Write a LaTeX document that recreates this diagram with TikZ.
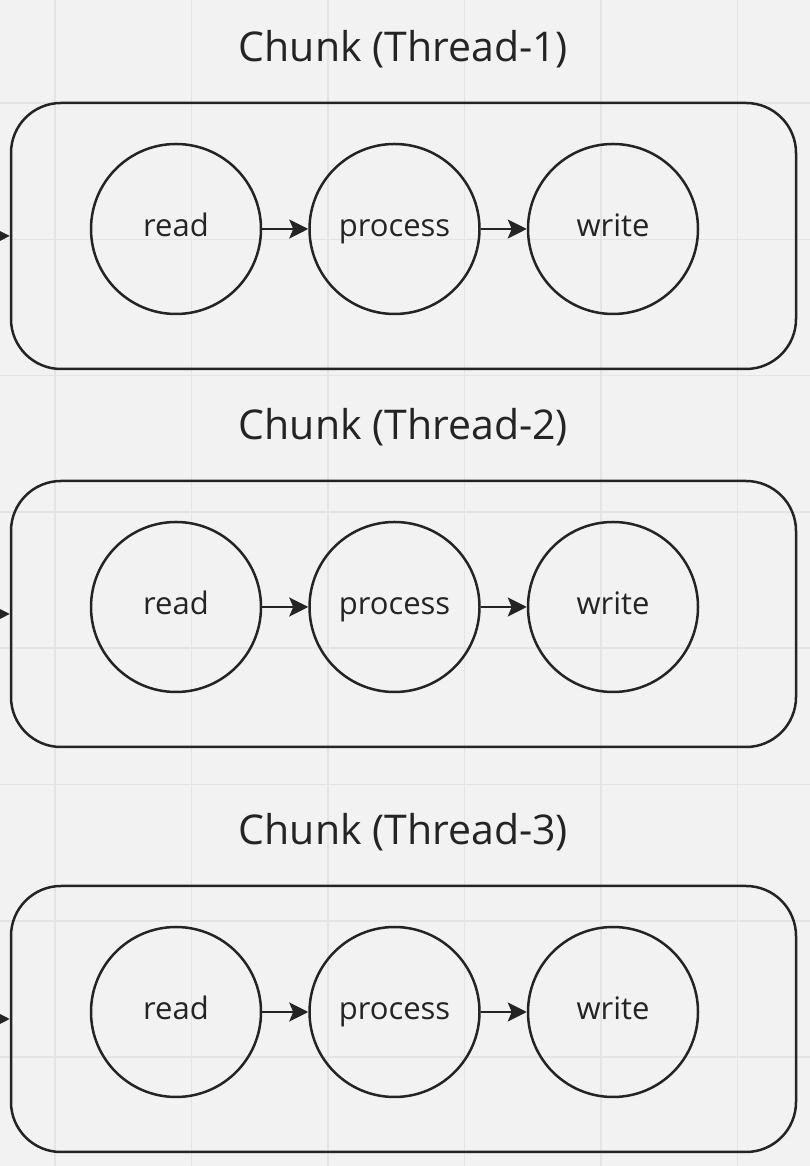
\documentclass[tikz,border=0pt]{standalone}
\usepackage{fontspec}
\setmainfont{Open Sans}
\usetikzlibrary{arrows.meta,positioning}
\definecolor{ink}{HTML}{242424}
\definecolor{paper}{HTML}{F2F2F2}
\definecolor{gridgray}{HTML}{E4E4E4}

\begin{document}
\begin{tikzpicture}[x=1pt, y=1pt, ->, >={Stealth[length=19pt,width=19pt,inset=4pt]}, line width=2.5pt, draw=ink, node distance=218.5pt]

		% Board with its faint grid
		\useasboundingbox (0,0) rectangle (810,1166);
		\clip (0,0) rectangle (810,1166);
		\fill[paper] (0,0) rectangle (810,1166);
		\foreach \gx in {0,...,5} \draw[-, gridgray, line width=1.5pt] (55+136.5*\gx,0) -- (55+136.5*\gx,1166);
		\foreach \gy in {0,...,7} \draw[-, gridgray, line width=1.5pt] (0,1063-136.3*\gy) -- (810,1063-136.3*\gy);

		\tikzstyle{chunk}=[draw=ink, line width=2.5pt, rounded corners=50pt, minimum width=785pt, minimum height=266pt]
		\tikzstyle{stage}=[circle, draw=ink, line width=2.5pt, minimum size=170pt, inner sep=0pt, text=ink, text height=23pt, text depth=7pt, font=\fontsize{31}{37}\selectfont]
		\tikzstyle{title}=[anchor=base, text=ink, font=\fontsize{41}{49}\selectfont]

		% Chunk 1
		\node[chunk]    (c1) at (403.5, 930)   {};
		\node[title]    (t1) at ([yshift=40pt]c1.north) {Chunk (Thread-1)};
		\node[stage]    (r1) at (176, 937)     {read};
		\node[stage]    (p1)[right of=r1]      {process};
		\node[stage]    (w1)[right of=p1]      {write};
		\coordinate     (in1) at (-40, 930);

		% Chunk 2
		\node[chunk]    (c2) at (403.5, 552)   {};
		\node[title]    (t2) at ([yshift=40pt]c2.north) {Chunk (Thread-2)};
		\node[stage]    (r2) at (176, 559)     {read};
		\node[stage]    (p2)[right of=r2]      {process};
		\node[stage]    (w2)[right of=p2]      {write};
		\coordinate     (in2) at (-40, 552);

		% Chunk 3
		\node[chunk]    (c3) at (403.5, 147)   {};
		\node[title]    (t3) at ([yshift=40pt]c3.north) {Chunk (Thread-3)};
		\node[stage]    (r3) at (176, 154)     {read};
		\node[stage]    (p3)[right of=r3]      {process};
		\node[stage]    (w3)[right of=p3]      {write};
		\coordinate     (in3) at (-40, 147);

		\draw (in1) -- (c1.west);
		\draw (r1) -- (p1);
		\draw (p1) -- (w1);

		\draw (in2) -- (c2.west);
		\draw (r2) -- (p2);
		\draw (p2) -- (w2);

		\draw (in3) -- (c3.west);
		\draw (r3) -- (p3);
		\draw (p3) -- (w3);

	\end{tikzpicture}
\end{document}
